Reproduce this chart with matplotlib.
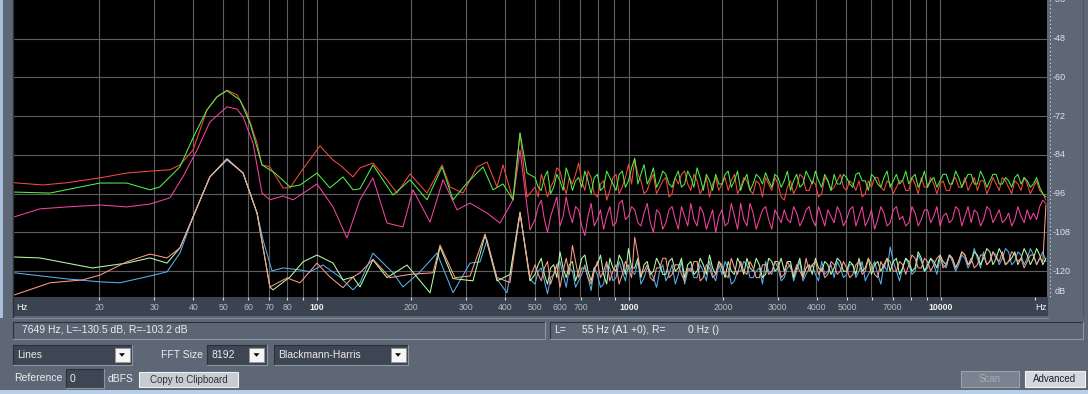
import matplotlib
matplotlib.use("Agg")
import matplotlib.pyplot as plt
from matplotlib.patches import Rectangle, Polygon
from matplotlib.ticker import NullLocator
from matplotlib.transforms import blended_transform_factory

plt.rcParams['font.family'] = ['Liberation Sans', 'DejaVu Sans']

W, H = 1088, 394

# analyser grid / labels
grid_f = [20, 30, 40, 50, 60, 70, 80, 90, 100, 200, 300, 400, 500, 600, 700, 800, 900,
          1000, 2000, 3000, 4000, 5000, 6000, 7000, 8000, 9000, 10000]
tick_f = grid_f + [20000]
label_f = [20, 30, 40, 50, 60, 70, 80, 100, 200, 300, 400, 500, 600, 700,
           1000, 2000, 3000, 4000, 5000, 7000, 10000]
db_ticks = [-36, -48, -60, -72, -84, -96, -108, -120]

# 100 steps per decade for the noisy upper band (501 Hz .. 21.9 kHz)
hi_steps = [1.000, 1.023, 1.047, 1.072, 1.096, 1.122, 1.148, 1.175, 1.202, 1.230,
            1.259, 1.288, 1.318, 1.349, 1.380, 1.413, 1.445, 1.479, 1.514, 1.549,
            1.585, 1.622, 1.660, 1.698, 1.738, 1.778, 1.820, 1.862, 1.905, 1.950,
            1.995, 2.042, 2.089, 2.138, 2.188, 2.239, 2.291, 2.344, 2.399, 2.455,
            2.512, 2.570, 2.630, 2.692, 2.754, 2.818, 2.884, 2.951, 3.020, 3.090,
            3.162, 3.236, 3.311, 3.388, 3.467, 3.548, 3.631, 3.715, 3.802, 3.890,
            3.981, 4.074, 4.169, 4.266, 4.365, 4.467, 4.571, 4.677, 4.786, 4.898,
            5.012, 5.129, 5.248, 5.370, 5.495, 5.623, 5.754, 5.888, 6.026, 6.166,
            6.310, 6.457, 6.607, 6.761, 6.918, 7.079, 7.244, 7.413, 7.586, 7.762,
            7.943, 8.128, 8.318, 8.511, 8.710, 8.913, 9.120, 9.333, 9.550, 9.772]
f_hi = ([100 * s for s in hi_steps[70:]] + [1000 * s for s in hi_steps]
        + [10000 * s for s in hi_steps[:35]])

# ---- upper traces (low part: freq / dB; high part: dB on even / odd points of f_hi)
red_lo_f = [10.65, 13.2, 15.75, 20.1, 24.5, 29.1, 33.7, 36.3, 40.0, 44.3,
            47.75, 51.4, 55.4, 59.6, 64.2, 66.6, 70.6, 77.8, 81.9, 88.2,
            102.2, 112.6, 118.5, 130.5, 137.4, 151.2, 167.8, 180.6, 198.9, 225.5,
            252.0, 267.3, 294.3, 326.3, 351.4, 378.3, 395.5, 425.8, 448.5, 472.2]
red_lo_db = [-92.6, -93.3, -92.6, -91.1, -89.6, -89.0, -88.6, -87.1, -82.5, -70.1,
             -66.0, -63.9, -65.4, -71.0, -80.3, -87.1, -87.7, -94.2, -94.2, -89.6,
             -81.2, -85.6, -87.1, -90.8, -88.0, -86.5, -91.7, -95.8, -89.9, -95.8,
             -87.1, -93.9, -95.8, -87.7, -86.2, -93.9, -87.1, -97.9, -77.2, -97.0]
red_hi = [-94, -90, -97, -92, -89, -96, -93, -86.5, -95, -91,
          -97, -92, -95, -90, -94, -87, -85.5, -92, -95, -90,
          -94, -91, -96, -93, -89, -95, -92, -94, -97, -91,
          -93, -95, -90, -94, -92, -96, -93, -91, -95, -93,
          -98, -92, -94, -91, -95, -93, -96, -92, -94, -90,
          -95, -93, -92, -96, -94, -91, -95, -93, -94, -92,
          -95, -93, -91, -94, -93, -93, -95, -92, -94, -91,
          -93, -95, -92, -94, -93, -91, -94, -92, -95, -93,
          -94, -95, -98]
red_mid = [-97, -93, -94, -88, -93, -91, -90, -92, -89, -96,
           -93, -98, -91, -96, -91, -93, -90, -96, -92, -96,
           -92, -97, -91, -90, -93, -90, -96, -91, -93, -95,
           -91, -92, -96, -91, -95, -92, -97, -93, -91, -97,
           -94, -96, -90, -95, -92, -97, -91, -95, -92, -94,
           -92, -95, -97, -92, -91, -94, -92, -96, -92, -95,
           -91, -96, -94, -91, -96, -92, -95, -91, -94, -95,
           -91, -92, -96, -91, -95, -92, -96, -93, -91, -96,
           -92, -96]

green_lo_f = [10.65, 13.9, 20.1, 24.5, 29.1, 31.3, 36.3, 40.0, 44.3, 47.75,
              51.4, 56.6, 60.9, 66.6, 73.3, 81.9, 88.2, 100.0, 110.0, 121.2,
              130.5, 137.4, 151.2, 175.4, 198.9, 225.5, 252.0, 273.3, 303.0, 341.2,
              367.3, 395.5, 425.8, 448.5, 472.2]
green_lo_db = [-95.5, -95.8, -92.7, -92.7, -94.8, -93.9, -87.7, -78.7, -70.1, -66.0,
               -64.1, -67.0, -74.1, -87.1, -89.6, -93.9, -93.3, -89.6, -94.2, -90.8,
               -94.8, -94.5, -87.1, -96.4, -91.7, -97.9, -87.7, -97.9, -92.7, -87.7,
               -94.8, -93.0, -97.9, -77.2, -89.6]
green_hi = [-91, -95, -89, -94, -92, -88, -95, -91, -89, -96,
            -90, -94, -91, -95, -89, -92, -85, -90, -93, -88,
            -92, -90, -94, -89, -93, -91, -88, -95, -92, -90,
            -93, -89, -92, -95, -90, -93, -91, -89.5, -94, -91,
            -92, -95, -90, -93, -91, -89, -94, -92, -90, -93,
            -91, -94, -89.5, -92, -90, -93, -91, -94, -90, -92,
            -93, -90, -92, -94, -91, -92, -90, -93, -91, -92,
            -90, -93, -91, -92, -90, -93, -92, -91, -93, -92,
            -93, -94, -97]
green_mid = [-94, -91, -96, -90, -95, -91, -92, -94, -92, -91,
             -95, -89, -93, -90, -94, -88, -93, -87, -91, -94,
             -89, -93, -91, -94, -89, -94, -91, -90, -95, -93,
             -90, -94, -89, -92, -95, -90, -93, -92, -90, -94,
             -89, -92, -94, -89, -93, -92, -90, -95, -93, -90,
             -93, -90, -92, -95, -91, -94, -89, -92, -93, -89,
             -91, -94, -89, -92, -94, -90, -93, -89, -94, -90,
             -93, -89, -94, -90, -93, -91, -94, -90, -91, -94,
             -91, -96]

pink_lo_f = [10.65, 12.9, 15.75, 20.1, 24.5, 29.1, 33.7, 37.1, 41.2, 45.3,
             51.4, 55.4, 57.9, 62.3, 66.6, 70.6, 77.8, 83.8, 100.0, 112.6,
             124.8, 137.4, 151.2, 167.8, 188.8, 203.3, 230.6, 253.8, 281.5, 309.9,
             351.4, 386.8, 425.8, 448.5, 482.8]
pink_lo_db = [-103.2, -100.7, -100.1, -99.5, -100.1, -99.2, -97.3, -90.8, -82.5, -73.8,
              -69.1, -69.8, -72.2, -80.3, -95.8, -97.9, -96.7, -97.9, -93.0, -100.1,
              -109.7, -97.9, -91.1, -105.1, -106.3, -94.8, -104.8, -91.7, -101.0, -98.9,
              -102.0, -105.1, -97.9, -82.5, -107.2]
pink_hi = [-104, -98, -108, -100, -106, -97, -105, -101, -109, -99,
           -104, -107, -100, -105, -98, -103, -101, -106, -99, -108,
           -102, -105, -100, -107, -103, -99, -106, -102, -104, -108,
           -101, -105, -103, -99, -106, -102, -104, -100, -107, -103,
           -101, -105, -102, -104, -100, -106, -103, -101, -105, -102,
           -104, -100, -103, -106, -101, -104, -102, -105, -100, -103,
           -105, -102, -104, -101, -103, -106, -102, -104, -101, -103,
           -105, -102, -104, -101, -103, -105, -102, -104, -103, -101,
           -102, -100, -99]
pink_mid = [-100, -104, -103, -97, -103, -102, -100, -106, -103, -106,
            -101, -103, -106, -99, -104, -100, -105, -102, -105, -101,
            -107, -101, -104, -100, -106, -104, -100, -107, -101, -103,
            -106, -99, -107, -104, -99, -107, -101, -104, -101, -105,
            -104, -100, -106, -101, -104, -100, -106, -103, -100, -106,
            -101, -106, -100, -104, -107, -100, -106, -101, -104, -106,
            -100, -106, -101, -105, -100, -103, -105, -100, -106, -100,
            -101, -106, -100, -105, -101, -104, -106, -100, -105, -104,
            -104, -98]

# ---- lower traces
lgreen_lo_f = [10.65, 12.9, 19.0, 24.5, 29.1, 33.0, 36.3, 40.0, 45.3, 51.4,
               57.9, 64.2, 70.6, 72.3, 81.9, 90.2, 100.0, 112.6, 121.2, 130.5,
               137.4, 151.2, 167.8, 194.5, 230.6, 248.3, 273.3, 316.8, 346.3, 378.3,
               416.5, 448.5, 482.8]
lgreen_lo_db = [-115.6, -115.9, -119.0, -117.5, -115.9, -117.5, -112.8, -103.2, -90.8, -85.2,
                -89.6, -102.0, -124.9, -125.8, -121.8, -117.1, -115.0, -117.5, -122.7, -121.8,
                -124.9, -116.5, -122.0, -118.1, -126.7, -112.5, -122.3, -123.0, -108.8, -123.0,
                -121.0, -101.7, -123.0]
lgreen_hi = [-121, -116, -124, -118, -114, -122, -117, -120, -115, -123,
             -118, -121, -116, -120, -117, -113, -119, -122, -117, -120,
             -118, -121, -116, -119, -122, -117, -120, -118, -115, -121,
             -119, -117, -121, -118, -116, -120, -118, -121, -117, -119,
             -120, -117, -119, -122, -118, -116, -120, -118, -119, -117,
             -120, -118, -116, -119, -121, -117, -118, -120, -116, -119,
             -117, -119, -116, -118, -117, -115, -118, -116, -117, -115,
             -117, -115, -116, -114, -116, -115, -117, -114, -116, -115,
             -116, -115, -116]
lgreen_mid = [-118, -121, -119, -122, -119, -118, -123, -116, -120, -119,
              -115, -124, -119, -115, -121, -119, -116, -118, -121, -116,
              -121, -117, -120, -116, -118, -121, -116, -121, -119, -117,
              -122, -120, -116, -121, -119, -116, -122, -116, -120, -116,
              -117, -122, -116, -119, -121, -119, -117, -121, -116, -120,
              -117, -121, -120, -116, -118, -120, -116, -117, -121, -116,
              -120, -114, -120, -116, -119, -117, -115, -119, -114, -118,
              -114, -118, -113, -118, -113, -118, -116, -118, -113, -118,
              -113, -118]

salmon_lo_f = [10.65, 13.9, 17.7, 20.1, 24.5, 29.1, 33.0, 36.3, 40.0, 45.3,
               51.4, 57.9, 64.2, 70.6, 80.1, 88.2, 100.0, 110.0, 121.2, 130.5,
               137.4, 151.2, 171.5, 198.9, 235.7, 248.3, 277.3, 309.9, 346.3, 378.3,
               416.5, 448.5, 482.8]
salmon_lo_db = [-127.4, -123.6, -122.7, -121.2, -117.1, -114.7, -115.9, -112.8, -103.2, -90.8,
                -85.2, -89.6, -102.0, -124.9, -122.1, -123.6, -117.5, -121.8, -125.1, -121.8,
                -120.5, -116.3, -122.0, -121.0, -120.5, -111.9, -122.0, -121.5, -108.5, -122.0,
                -123.5, -102.0, -122.0]
salmon_hi = [-118, -123, -117, -121, -125, -116, -112, -122, -119, -124,
             -117, -120, -123, -118, -121, -119, -109.5, -121, -118, -123,
             -119, -116, -121, -118, -123, -120, -117, -122, -119, -121,
             -118, -122, -119, -117, -121, -119, -122, -118, -120, -117,
             -121, -119, -118, -122, -120, -117, -119, -121, -118, -120,
             -119, -121, -117, -120, -118, -122, -119, -117, -120, -118,
             -118, -116, -119, -117, -118, -115, -118, -116, -117, -115,
             -116, -118, -115, -117, -116, -114, -117, -115, -116, -117,
             -115, -116, -99.5]
salmon_mid = [-121, -119, -124, -118, -120, -121, -117, -119, -122, -120,
              -122, -117, -120, -124, -117, -122, -115, -120, -122, -119,
              -116, -122, -118, -121, -119, -117, -123, -118, -122, -117,
              -121, -116, -121, -120, -117, -122, -118, -121, -117, -122,
              -117, -121, -120, -116, -118, -121, -122, -117, -121, -117,
              -122, -118, -121, -116, -121, -117, -116, -120, -117, -121,
              -115, -119, -116, -120, -116, -119, -115, -119, -114, -118,
              -119, -115, -118, -114, -117, -118, -114, -117, -119, -115,
              -118, -117]

blue_lo_f = [10.65, 15.75, 20.1, 23.3, 29.1, 33.0, 36.3, 40.0, 45.3, 51.4,
             57.9, 64.2, 67.1, 71.7, 77.8, 88.2, 94.9, 104.5, 118.5, 130.5,
             137.4, 151.2, 175.4, 188.8, 214.1, 242.8, 273.3, 309.9, 333.7, 351.4,
             378.3, 407.4, 448.5, 482.8]
blue_lo_db = [-120.5, -122.4, -123.3, -123.6, -121.5, -120.2, -114.4, -103.2, -90.8, -85.6,
              -89.6, -102.0, -110.3, -119.9, -119.0, -119.6, -120.2, -118.1, -121.8, -125.8,
              -123.6, -114.4, -120.5, -124.9, -120.2, -114.4, -126.7, -117.5, -117.1, -110.3,
              -122.5, -126.7, -102.0, -122.5]
blue_hi = [-124, -119, -127, -121, -117, -125, -120, -123, -118, -126,
           -121, -124, -119, -122, -120, -118, -121, -124, -119, -122,
           -120, -123, -118, -121, -124, -119, -122, -120, -117, -123,
           -121, -119, -123, -120, -118, -122, -119, -117, -121, -119,
           -122, -118, -120, -123, -119, -121, -117, -120, -122, -119,
           -121, -118, -120, -123, -119, -121, -118, -112.5, -120, -119,
           -118, -120, -117, -119, -118, -116, -119, -117, -118, -116,
           -117, -116, -114, -117, -115, -116, -114, -117, -115, -116,
           -115, -116, -117]
blue_mid = [-120, -123, -122, -118, -121, -119, -125, -121, -122, -119,
            -125, -118, -123, -117, -123, -120, -117, -122, -120, -125,
            -118, -121, -124, -117, -120, -122, -118, -123, -121, -118,
            -117, -124, -120, -117, -122, -120, -124, -120, -117, -123,
            -119, -123, -117, -121, -118, -123, -121, -118, -117, -122,
            -118, -122, -117, -121, -117, -124, -120, -117, -123, -116,
            -121, -115, -120, -116, -121, -118, -115, -120, -115, -119,
            -113, -119, -118, -114, -118, -113, -118, -114, -118, -113,
            -118, -114]

traces = [
    (pink_lo_f, pink_lo_db, pink_hi, pink_mid, '#f4449e'),
    (red_lo_f, red_lo_db, red_hi, red_mid, '#f8493e'),
    (green_lo_f, green_lo_db, green_hi, green_mid, '#50f048'),
    (blue_lo_f, blue_lo_db, blue_hi, blue_mid, '#5ab0ee'),
    (lgreen_lo_f, lgreen_lo_db, lgreen_hi, lgreen_mid, '#b2ffa4'),
    (salmon_lo_f, salmon_lo_db, salmon_hi, salmon_mid, '#ff9a8a'),
]

PANEL = '#5e6776'
fig = plt.figure(figsize=(W / 100, H / 100), dpi=100, facecolor=PANEL)

# ---- spectrum
ax = fig.add_axes([14 / W, 1 - 297 / H, 1033 / W, 297 / H])
ax.set_facecolor('black')
ax.set_xscale('log')
ax.set_xlim(10.65, 22050)
ax.set_ylim(-128, -36)
ax.xaxis.set_minor_locator(NullLocator())
ax.set_xticks([])
ax.set_yticks([])
for s in ax.spines.values():
    s.set_visible(False)
for f in grid_f:
    ax.axvline(f, color='#5f5f5f', lw=0.8, zorder=1)
for d in db_ticks[1:]:
    ax.axhline(d, color='#5f5f5f', lw=0.8, zorder=1)

for lo_f, lo_db, hi_db, mid_db, col in traces:
    hi = [v for pair in zip(hi_db, mid_db) for v in pair] + [hi_db[-1]]
    ax.plot(lo_f + f_hi, lo_db + hi, color=col, lw=0.75, zorder=2)

tr = blended_transform_factory(ax.transAxes, ax.transData)
for d in db_ticks:
    ax.text(1 + 6 / 1033, d, str(d), transform=tr, ha='left', va='center',
            fontsize=6.5, color='#e2e2e2', clip_on=False)
ax.text(1 + 8 / 1033, -126.4, 'dB', transform=tr, ha='left', va='center',
        fontsize=6.5, color='#e2e2e2', clip_on=False)

# ---- frequency strip
strip = fig.add_axes([14 / W, 1 - 316 / H, 1034 / W, 19 / H])
strip.set_facecolor('#3b4350')
strip.set_xscale('log')
strip.set_xlim(10.65, 22050)
strip.set_ylim(0, 1)
strip.xaxis.set_minor_locator(NullLocator())
strip.set_xticks(tick_f)
strip.tick_params(axis='x', direction='in', top=True, bottom=False,
                  labelbottom=False, length=2.5, width=0.8, color='#dcdcdc')
strip.set_yticks([])
for s in strip.spines.values():
    s.set_visible(False)
for f in label_f:
    big = f in (100, 1000, 10000)
    strip.text(f, 0.46, str(f), ha='center', va='center', fontsize=6.3,
               color='#f2f2f2' if big else '#b6bac2',
               fontweight='bold' if big else 'normal')
strip.text(0.002, 0.46, 'Hz', transform=strip.transAxes, ha='left', va='center',
           fontsize=6.8, color='#f2f2f2')
strip.text(0.9935, 0.46, 'Hz', transform=strip.transAxes, ha='center', va='center',
           fontsize=6.8, color='#f2f2f2')

# ---- window chrome (pixel coordinates, y down)
ov = fig.add_axes([0, 0, 1, 1], zorder=10)
ov.set_xlim(0, W)
ov.set_ylim(H, 0)
ov.axis('off')

ov.add_patch(Rectangle((0, 0), 3, 318, fc='#a9bfdc', ec='none'))
ov.add_patch(Rectangle((0, 390), W, 4, fc='#b8cde6', ec='none'))
ov.plot([13, 13], [0, 317], color='#2b3038', lw=1.0)
ov.plot([13, 1048], [317.5, 317.5], color='#7e8794', lw=0.8)
ov.plot([1049.5, 1049.5], [0, 297], color='#dcdcdc', lw=0.8, ls=(0, (1, 2.5)))
ov.plot([1083, 1083], [0, 317], color='#4d5561', lw=0.8)

TXT = dict(fontsize=7.5, color='#ececec', va='center', ha='left')


def sunken(x, y, w, h, fc):
    ov.add_patch(Rectangle((x, y), w, h, fc=fc, ec='none'))
    ov.plot([x, x, x + w], [y + h, y, y], color='#2c3038', lw=0.8)
    ov.plot([x, x + w, x + w], [y + h, y + h, y], color='#8e96a2', lw=0.8)


def combo(x, y, w, h, text):
    sunken(x, y, w, h, '#3e4653')
    ov.text(x + 4, y + h / 2 + 0.5, text, **TXT)
    bx = x + w - 17.5
    ov.add_patch(Rectangle((bx, y + 2.5), 15, h - 5, fc='#f6f6f6', ec='#9a9a9a', lw=0.6))
    cy = y + h / 2
    ov.add_patch(Polygon([(bx + 4.5, cy - 1.5), (bx + 10.5, cy - 1.5), (bx + 7.5, cy + 2)],
                         fc='black', ec='none'))


def button(x, y, w, h, text, fc, ec, tc):
    ov.add_patch(Rectangle((x, y), w, h, fc=fc, ec=ec, lw=0.8))
    ov.text(x + w / 2, y + h / 2 + 0.5, text, fontsize=7, color=tc, ha='center', va='center')


# status bar
sunken(13, 321.5, 532, 17, '#5c6573')
sunken(550, 321.5, 533, 17, '#5c6573')
ov.text(21.5, 330, '7649 Hz, L=-130.5 dB, R=-103.2 dB', **TXT)
ov.text(554.5, 330, 'L=', **TXT)
ov.text(582, 330, '55 Hz (A1 +0), R=', **TXT)
ov.text(688, 330, '0 Hz ()', **TXT)

# controls
combo(13, 345, 119, 19.5, 'Lines')
ov.text(161, 354.5, 'FFT Size', **TXT)
combo(207, 345, 59.5, 19.5, '8192')
combo(274, 345, 134, 19.5, 'Blackmann-Harris')

ov.text(14.5, 378, 'Reference', **TXT)
sunken(66, 369, 38, 19, '#3e4653')
ov.text(70, 378.5, '0', **TXT)
ov.text(107.5, 379, 'dBFS', **TXT)
button(139, 372, 99, 15, 'Copy to Clipboard', '#c8ccd2', '#eef0f2', '#2e3238')
button(961, 371, 58, 16, 'Scan', '#7b8390', '#9aa1ac', '#a7adb6')
button(1024.5, 371, 60, 16, 'Advanced', '#d4d8de', '#f4f4f4', '#1e2228')

fig.savefig('out.png', dpi=100, facecolor=PANEL)
